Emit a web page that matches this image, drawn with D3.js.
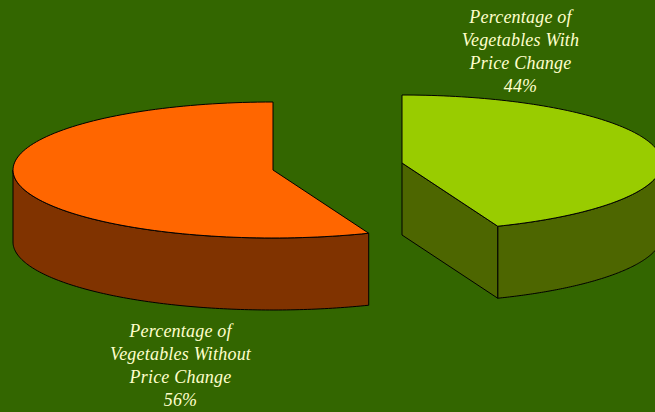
<!DOCTYPE html>
<html><head><meta charset="utf-8">
<script src="https://cdn.jsdelivr.net/npm/d3@7/dist/d3.min.js"></script>
<style>html,body{margin:0;padding:0;background:#336600;overflow:hidden}svg{display:block}
text{font-family:"Liberation Serif",serif;font-style:italic;font-size:18px;letter-spacing:.2px;fill:#ffffcc;text-anchor:middle}</style>
</head><body><svg id="c" width="655" height="412"></svg>
<script>
const categories = ["Percentage of Vegetables With Price Change", "Percentage of Vegetables Without Price Change"];
const values = [44, 56];
const labelLines = [
  ["Percentage of", "Vegetables With", "Price Change", "44%"],
  ["Percentage of", "Vegetables Without", "Price Change", "56%"]
];
const sideColors = ["#4d6600", "#803300"];
const topColors = ["#99cc00", "#ff6600"];

const svg = d3.select("#c");
const rx = 260, ry = 68, depth = 72;
const centers = [[402, 163], [273, 170]];
const labelPos = [[520.5, 23], [180.5, 337]];
const arcs = d3.pie().sort(null)(values);

const pt = (c, a, dy = 0) => [c[0] + rx * Math.sin(a), c[1] - ry * Math.cos(a) + dy];
const line = d3.line();
const samples = (a0, a1) => d3.range(0, 121).map(i => a0 + (a1 - a0) * i / 120);
const stroke = s => s.attr("stroke", "#000").attr("stroke-width", 1).attr("stroke-linejoin", "round");

arcs.forEach((d, i) => {
  const c = centers[i], g = svg.append("g");
  const a0 = d.startAngle, a1 = d.endAngle;
  // front-facing rim: the part of the slice in the lower half of the ellipse
  const f0 = Math.max(a0, Math.PI / 2), f1 = Math.min(a1, 3 * Math.PI / 2);
  const top = samples(f0, f1).map(a => pt(c, a));
  const bot = samples(f1, f0).map(a => pt(c, a, depth));
  stroke(g.append("path")).attr("fill", sideColors[i]).attr("d", line([...top, ...bot]) + "Z");
  // cut face for the slice whose end edge faces the viewer
  if (i === 0) {
    const e = pt(c, a1);
    stroke(g.append("path")).attr("fill", sideColors[i])
      .attr("d", line([c, e, [e[0], e[1] + depth], [c[0], c[1] + depth]]) + "Z");
  }
  stroke(g.append("path")).attr("fill", topColors[i])
    .attr("d", line([c, ...samples(a0, a1).map(a => pt(c, a))]) + "Z");
  const t = svg.append("text").attr("aria-label", categories[i]);
  labelLines[i].forEach((s, k) => t.append("tspan")
    .attr("x", labelPos[i][0]).attr("y", labelPos[i][1] + k * 23).text(s));
});
</script></body></html>
